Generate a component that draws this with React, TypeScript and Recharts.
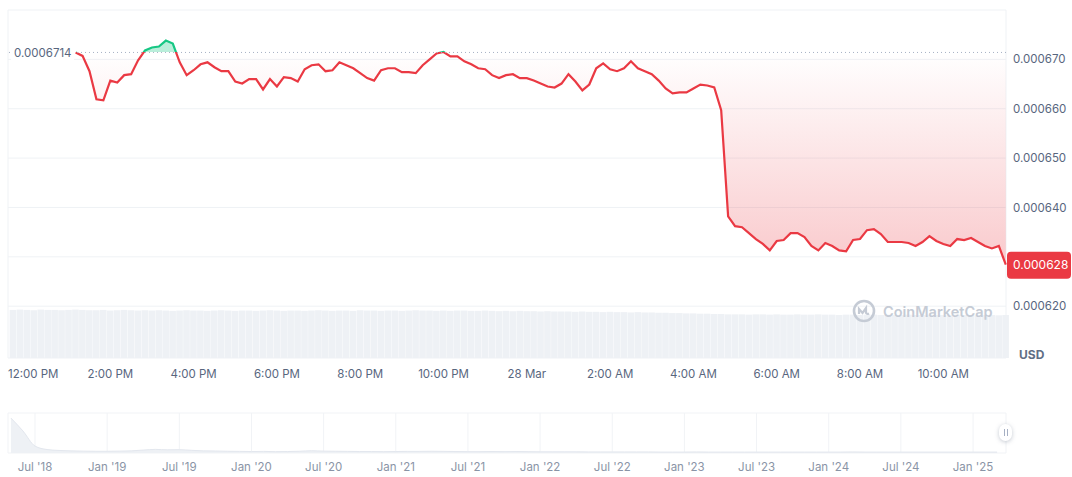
import {
  Area,
  AreaChart,
  Bar,
  CartesianGrid,
  ComposedChart,
  ReferenceLine,
  XAxis,
  YAxis,
} from "recharts"

const RED = "#ea3943"
const GREEN = "#16c784"
const TEXT = "#58667e"
const GRID = "#eff2f5"
const FONT = "Inter, 'Noto Sans', sans-serif"

// minutes counted from 12:00 PM, 27 Mar
const firstMinute = -20
const stepMinutes = 10
const priceStartMinute = 70

const prices = [
  0.0006714, 0.0006707, 0.0006676, 0.0006619, 0.0006617, 0.0006657, 0.0006653, 0.0006668, 0.000667, 0.0006698,
  0.0006718, 0.0006724, 0.0006726, 0.0006738, 0.0006732, 0.0006694, 0.0006668, 0.0006678, 0.000669, 0.0006694,
  0.0006684, 0.0006676, 0.0006676, 0.0006655, 0.0006651, 0.000666, 0.000666, 0.0006639, 0.000666, 0.0006645,
  0.0006664, 0.0006662, 0.0006655, 0.000668, 0.0006688, 0.000669, 0.0006676, 0.0006678, 0.0006694, 0.0006688,
  0.0006682, 0.0006672, 0.0006662, 0.0006657, 0.0006678, 0.0006682, 0.0006682, 0.0006674, 0.0006674, 0.0006672,
  0.0006688, 0.00067, 0.0006712, 0.0006715, 0.0006706, 0.0006706, 0.0006696, 0.000669, 0.0006682, 0.000668,
  0.0006668, 0.0006662, 0.0006668, 0.000667, 0.0006662, 0.0006662, 0.0006657, 0.0006651, 0.0006645, 0.0006643,
  0.0006651, 0.000667, 0.0006655, 0.0006637, 0.0006649, 0.0006682, 0.0006692, 0.000668, 0.0006676, 0.0006682,
  0.0006696, 0.0006682, 0.0006676, 0.000667, 0.0006657, 0.0006641, 0.0006631, 0.0006633, 0.0006633, 0.0006641,
  0.0006649, 0.0006647, 0.0006643, 0.0006597, 0.0006382, 0.0006362, 0.000636, 0.0006348, 0.0006336, 0.0006326,
  0.0006313, 0.0006332, 0.0006334, 0.0006348, 0.0006348, 0.000634, 0.0006322, 0.0006313, 0.0006328, 0.0006322,
  0.0006313, 0.0006311, 0.0006334, 0.0006336, 0.0006354, 0.0006356, 0.0006346, 0.000633, 0.000633, 0.000633,
  0.0006328, 0.0006322, 0.000633, 0.0006342, 0.0006332, 0.0006326, 0.0006322, 0.0006336, 0.0006334, 0.0006338,
  0.000633, 0.0006322, 0.0006317, 0.0006322, 0.0006284,
]

// volume, millions USD, one bar per 10 minutes starting at firstMinute
const volumes = [
  1.52, 1.53, 1.52, 1.51, 1.53, 1.52, 1.52, 1.51, 1.52, 1.53, 1.52, 1.51, 1.51, 1.52, 1.5, 1.51, 1.52, 1.51, 1.5, 1.51,
  1.5, 1.51, 1.5, 1.49, 1.5, 1.51, 1.5, 1.5, 1.49, 1.5, 1.51, 1.5, 1.49, 1.5, 1.5, 1.49, 1.5, 1.51, 1.5, 1.49,
  1.5, 1.5, 1.49, 1.5, 1.51, 1.5, 1.49, 1.5, 1.5, 1.49, 1.51, 1.5, 1.5, 1.49, 1.5, 1.5, 1.49, 1.5, 1.51, 1.5,
  1.5, 1.49, 1.5, 1.49, 1.5, 1.5, 1.49, 1.49, 1.5, 1.49, 1.48, 1.49, 1.48, 1.49, 1.48, 1.48, 1.47, 1.48, 1.47, 1.47,
  1.47, 1.46, 1.47, 1.46, 1.46, 1.45, 1.46, 1.45, 1.45, 1.44, 1.45, 1.44, 1.44, 1.43, 1.43, 1.42, 1.42, 1.41, 1.41, 1.4,
  1.4, 1.39, 1.39, 1.38, 1.38, 1.38, 1.37, 1.38, 1.38, 1.37, 1.38, 1.37, 1.37, 1.38, 1.37, 1.37, 1.38, 1.37, 1.37, 1.36,
  1.37, 1.37, 1.36, 1.37, 1.37, 1.36, 1.37, 1.36, 1.36, 1.37, 1.36, 1.36, 1.37, 1.36, 1.36, 1.36, 1.37, 1.36, 1.36, 1.35,
  1.36, 1.36, 1.35, 1.36,
]

const timeTicks = [0, 120, 240, 360, 480, 600, 720, 840, 960, 1080, 1200, 1320]
const timeLabels = [
  "12:00 PM", "2:00 PM", "4:00 PM", "6:00 PM", "8:00 PM", "10:00 PM",
  "28 Mar", "2:00 AM", "4:00 AM", "6:00 AM", "8:00 AM", "10:00 AM",
]
const priceTicks = [0.00062, 0.00063, 0.00064, 0.00065, 0.00066, 0.00067, 0.00068]

// months counted from Jul '18, first value is May '18
const historyStartMonth = -2
const history = [
  0.0262, 0.0165, 0.0052, 0.0026, 0.0019, 0.0016, 0.0014, 0.0013, 0.0013, 0.0014,
  0.0016, 0.0022, 0.0027, 0.0024, 0.0025, 0.002, 0.0016, 0.0015, 0.0013, 0.0012,
  0.0011, 0.0012, 0.001, 0.0011, 0.0013, 0.0017, 0.0014, 0.0013, 0.0012, 0.0011,
  0.0011, 0.001, 0.0011, 0.0012, 0.0012, 0.0013, 0.0012, 0.0011, 0.001, 0.001,
  0.0011, 0.001, 0.0011, 0.001, 0.0009, 0.0009, 0.0009, 0.0009, 0.0008, 0.0008,
  0.0008, 0.0008, 0.0008, 0.0008, 0.0007, 0.0007, 0.0007, 0.0008, 0.0007, 0.0007,
  0.0007, 0.0007, 0.0007, 0.0007, 0.0007, 0.0007, 0.0007, 0.0007, 0.0007, 0.0007,
  0.0008, 0.0007, 0.0007, 0.0007, 0.0007, 0.0007, 0.0007, 0.0007, 0.0007, 0.0007,
  0.0007, 0.0007, 0.0007,
]
const historyTicks = [0, 6, 12, 18, 24, 30, 36, 42, 48, 54, 60, 66, 72, 78]
const historyLabels = [
  "Jul '18", "Jan '19", "Jul '19", "Jan '20", "Jul '20", "Jan '21", "Jul '21",
  "Jan '22", "Jul '22", "Jan '23", "Jul '23", "Jan '24", "Jul '24", "Jan '25",
]

const openPrice = prices[0]
const lastPrice = prices[prices.length - 1]
const maxPrice = Math.max(...prices)
const minPrice = Math.min(...prices)
const splitOffset = (maxPrice - openPrice) / (maxPrice - minPrice)

const rows = volumes.map((volume, k) => {
  const t = firstMinute + k * stepMinutes
  const p = t >= priceStartMinute ? prices[(t - priceStartMinute) / stepMinutes] : undefined
  return { t, volume, price: p ?? null }
})

const historyRows = history.map((value, i) => ({ m: historyStartMonth + i, value }))

const PriceTick = ({ x, y, payload }: any) => {
  const v = payload.value as number
  if (v >= 0.00068 || Math.abs(v - lastPrice) < 0.000004) return <g />
  return (
    <text x={x - 1} y={y} dy="0.355em" fill={TEXT} fontSize={11.5} fontFamily={FONT}>
      {v.toFixed(6)}
    </text>
  )
}

const TimeTick = ({ x, y, payload }: any) => {
  const i = timeTicks.indexOf(payload.value)
  const first = i === 0
  return (
    <text
      x={first ? 8 : x}
      y={y}
      dy={12}
      textAnchor={first ? "start" : "middle"}
      fill={TEXT}
      fontSize={11.5}
      fontFamily={FONT}
    >
      {timeLabels[i]}
    </text>
  )
}

const HistoryTick = ({ x, y, payload }: any) => (
  <text x={x} y={y} dy={10} textAnchor="middle" fill="#8a94a6" fontSize={11.5} fontFamily={FONT}>
    {historyLabels[historyTicks.indexOf(payload.value)]}
  </text>
)

const OpenLabel = ({ viewBox }: any) => (
  <g>
    <rect x={viewBox.x + 3} y={viewBox.y - 8} width={63} height={16} fill="#fff" />
    <text x={viewBox.x + 6} y={viewBox.y} dy="0.355em" fill={TEXT} fontSize={11.5} fontFamily={FONT}>
      {openPrice.toFixed(7)}
    </text>
  </g>
)

const PriceTag = ({ viewBox }: any) => {
  const left = viewBox.x + viewBox.width + 1
  return (
    <g>
      <rect x={left} y={viewBox.y - 13} width={64} height={27} rx={4} fill={RED} />
      <text x={left + 6} y={viewBox.y} dy="0.355em" fill="#fff" fontSize={12} fontFamily={FONT}>
        {lastPrice.toFixed(6)}
      </text>
    </g>
  )
}

export default function App() {
  return (
    <div style={{ position: "relative", width: 1072, height: 477, fontFamily: FONT, background: "#fff" }}>
      <style>{"body{margin:0}"}</style>
      <ComposedChart width={1072} height={390} data={rows} margin={{ top: 10, right: 0, bottom: 0, left: 8 }}>
        <defs>
          <linearGradient id="priceStroke" x1="0" y1="0" x2="0" y2="1">
            <stop offset={0} stopColor={GREEN} />
            <stop offset={splitOffset} stopColor={GREEN} />
            <stop offset={splitOffset} stopColor={RED} />
            <stop offset={1} stopColor={RED} />
          </linearGradient>
          <linearGradient id="priceFill" x1="0" y1="0" x2="0" y2="1">
            <stop offset={0} stopColor={GREEN} stopOpacity={0.3} />
            <stop offset={splitOffset} stopColor={GREEN} stopOpacity={0.3} />
            <stop offset={splitOffset} stopColor={RED} stopOpacity={0} />
            <stop offset={1} stopColor={RED} stopOpacity={0.27} />
          </linearGradient>
        </defs>
        <CartesianGrid yAxisId="price" stroke={GRID} verticalPoints={[8, 1006]} />
        <XAxis
          dataKey="t"
          type="number"
          domain={[-27.4, 1410.3]}
          ticks={timeTicks}
          tick={<TimeTick />}
          axisLine={false}
          tickLine={false}
          height={32}
          interval={0}
        />
        <YAxis
          yAxisId="price"
          orientation="right"
          domain={[0.0006095, 0.00068]}
          ticks={priceTicks}
          tick={<PriceTick />}
          axisLine={false}
          tickLine={false}
          width={66}
          interval={0}
        />
        <YAxis yAxisId="vol" hide domain={[0, 11]} />
        <Bar yAxisId="vol" dataKey="volume" fill="#eef1f5" barSize={6.6} isAnimationActive={false} />
        <Area
          yAxisId="price"
          type="linear"
          dataKey="price"
          baseValue={openPrice}
          stroke="url(#priceStroke)"
          strokeWidth={2.2}
          fill="url(#priceFill)"
          fillOpacity={1}
          dot={false}
          activeDot={false}
          isAnimationActive={false}
        />
        <ReferenceLine yAxisId="price" y={openPrice} stroke="#a6b0c3" strokeDasharray="1 3" label={OpenLabel} />
        <ReferenceLine yAxisId="price" y={lastPrice} stroke="none" label={PriceTag} />
      </ComposedChart>

      <div
        style={{
          position: "absolute",
          left: 852,
          top: 299,
          display: "flex",
          alignItems: "center",
          gap: 7,
          color: "#c5cbd5",
          fontSize: 14.5,
          fontWeight: 600,
        }}
      >
        <svg width={24} height={24} viewBox="0 0 24 24">
          <circle cx={12} cy={12} r={10} fill="none" stroke="#c5cbd5" strokeWidth={2.6} />
          <path d="M7 15 V10 L10.5 14 L14 9 V14 Q15 15.5 17 14.5" fill="none" stroke="#c5cbd5" strokeWidth={2.2} />
        </svg>
        <span>CoinMarketCap</span>
      </div>
      <div
        style={{ position: "absolute", left: 1019, top: 347, fontSize: 12, fontWeight: 700, color: "#616e85", lineHeight: "15px" }}
      >
        USD
      </div>

      <div style={{ position: "absolute", left: 0, top: 405 }}>
        <AreaChart width={1072} height={72} data={historyRows} margin={{ top: 8, right: 66, bottom: 0, left: 8 }}>
          <CartesianGrid stroke="#f1f3f6" />
          <XAxis
            dataKey="m"
            type="number"
            domain={[-2.245, 80.74]}
            ticks={historyTicks}
            tick={<HistoryTick />}
            axisLine={false}
            tickLine={false}
            height={24}
            interval={0}
          />
          <YAxis hide domain={[0, 0.03]} ticks={[0, 0.03]} />
          <Area
            type="monotone"
            dataKey="value"
            stroke="#e3e7ee"
            strokeWidth={1}
            fill="#eef1f5"
            fillOpacity={1}
            dot={false}
            activeDot={false}
            isAnimationActive={false}
          />
        </AreaChart>
      </div>
      <div
        style={{
          position: "absolute",
          left: 999,
          top: 424,
          width: 13,
          height: 17,
          borderRadius: 7,
          background: "#fff",
          boxShadow: "0 1px 4px rgba(88,102,126,0.35)",
          display: "flex",
          justifyContent: "center",
          alignItems: "center",
          gap: 2,
        }}
      >
        <div style={{ width: 1, height: 7, background: "#a6b0c3" }} />
        <div style={{ width: 1, height: 7, background: "#a6b0c3" }} />
      </div>
    </div>
  )
}
